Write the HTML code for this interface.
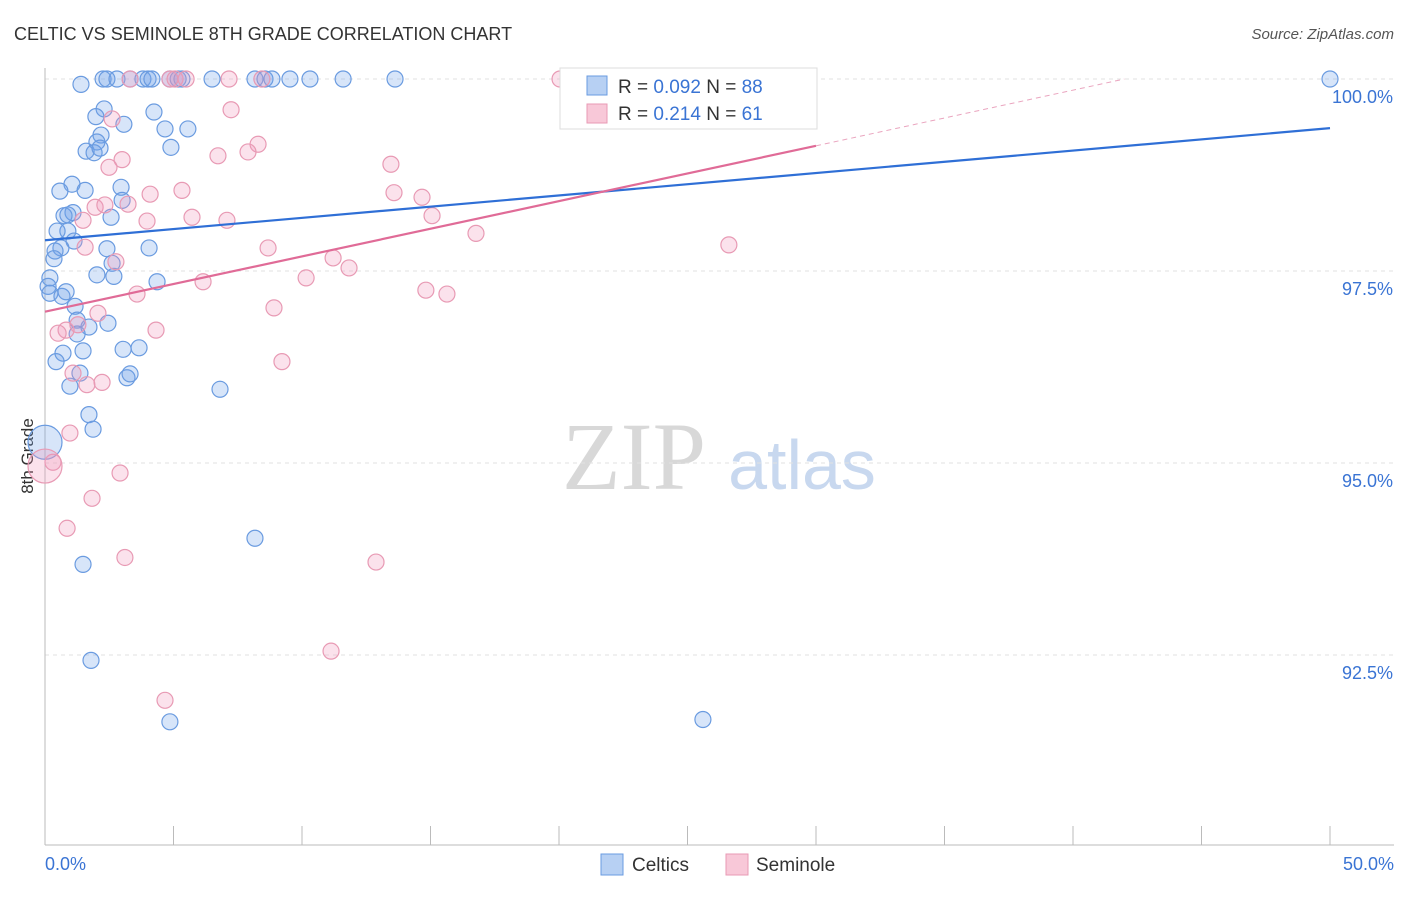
<!DOCTYPE html>
<html><head><meta charset="utf-8"><style>
body{margin:0;background:#fff;font-family:"Liberation Sans",sans-serif}
</style></head><body>
<svg id="chart" width="1406" height="892" xmlns="http://www.w3.org/2000/svg" font-family="Liberation Sans, sans-serif">
<text x="14" y="40" font-size="18" fill="#333">CELTIC VS SEMINOLE 8TH GRADE CORRELATION CHART</text>
<text x="1394" y="39" font-size="15" fill="#555" text-anchor="end" font-style="italic">Source: ZipAtlas.com</text>
<text transform="translate(33,456) rotate(-90)" font-size="17" fill="#333" text-anchor="middle">8th Grade</text>
<g>
<text x="634" y="489" font-size="96" font-family="Liberation Serif, serif" fill="#d8d8d8" text-anchor="middle">ZIP</text>
<text x="802" y="489" font-size="70" fill="#c8d8ef" text-anchor="middle">atlas</text>
</g>
<g id="grid"></g><g id="axes"></g><g id="pts"></g><g id="lines"></g>
<g>
<rect x="560" y="68" width="257" height="61" fill="#fff" stroke="#ddd"/>
<rect x="587" y="76" width="20" height="19" fill="#b7d0f3" stroke="#6a9be0"/>
<text x="618" y="93" font-size="19" fill="#333">R = <tspan fill="#3a74d4">0.092</tspan>   N = <tspan fill="#3a74d4">88</tspan></text>
<rect x="587" y="104" width="20" height="19" fill="#f8c8d8" stroke="#e89ab4"/>
<text x="618" y="120" font-size="19" fill="#333">R =  <tspan fill="#3a74d4">0.214</tspan>   N =  <tspan fill="#3a74d4">61</tspan></text>
</g>
<g>
<rect x="601" y="854" width="22" height="21" fill="#b7d0f3" stroke="#6a9be0"/>
<text x="632" y="871" font-size="19" fill="#333">Celtics</text>
<rect x="726" y="854" width="22" height="21" fill="#f8c8d8" stroke="#e89ab4"/>
<text x="756" y="871" font-size="19" fill="#333">Seminole</text>
</g>
</svg>
<script>
const yTicks=[100,97.5,95,92.5];
const yTickLabels=["100.0%","97.5%","95.0%","92.5%"];
const xTicks=[0,5,10,15,20,25,30,35,40,45,50];
const celticsX=[1.40,2.26,2.41,2.80,3.31,3.81,4.01,4.16,4.86,5.18,5.33,6.50,8.17,8.56,8.83,9.53,10.31,11.60,13.62,50.0,2.30,1.98,4.24,3.07,4.67,5.56,2.18,2.02,1.60,1.91,2.14,4.90,1.05,0.58,1.56,2.96,1.09,3.00,0.74,0.89,2.57,0.47,0.89,1.13,0.62,0.39,2.41,4.05,0.35,2.61,0.19,2.02,2.68,4.36,0.12,0.19,0.66,0.82,1.17,1.25,1.71,2.45,1.25,0.70,1.48,3.04,3.66,0.43,1.36,0.97,3.19,3.31,6.81,1.71,1.87,0,8.17,1.48,1.79,4.86,25.60];
const celticsY=[99.93,100,100,100,100,100,100,100,100,100,100,100,100,100,100,100,100,100,100,100,99.61,99.51,99.57,99.41,99.35,99.35,99.27,99.18,99.06,99.04,99.10,99.11,98.63,98.54,98.55,98.59,98.26,98.42,98.22,98.23,98.20,98.02,98.02,97.89,97.80,97.76,97.79,97.80,97.66,97.60,97.41,97.45,97.43,97.36,97.30,97.21,97.17,97.23,97.04,96.86,96.77,96.82,96.68,96.43,96.46,96.48,96.50,96.32,96.17,96.00,96.11,96.16,95.96,95.63,95.44,95.27,94.02,93.68,92.43,91.63,91.66];
const seminoleX=[3.31,4.86,5.06,5.49,7.16,8.44,20.04,7.24,2.61,8.29,6.73,7.90,3.00,2.49,13.46,4.09,5.33,13.58,14.67,1.95,2.33,3.23,1.48,3.97,5.72,7.08,15.06,16.77,8.68,26.61,1.56,2.76,11.21,11.83,10.16,6.15,3.58,14.82,15.64,8.91,2.06,0.82,0.51,1.28,4.32,9.22,1.09,1.63,2.22,0.97,0.31,0,2.92,1.83,0.86,3.11,12.88,11.13,4.67];
const seminoleY=[100,100,100,100,100,100,100,99.60,99.48,99.15,99.00,99.05,98.95,98.85,98.89,98.50,98.55,98.52,98.46,98.33,98.36,98.37,98.16,98.15,98.20,98.16,98.22,97.99,97.80,97.84,97.81,97.62,97.67,97.54,97.41,97.36,97.20,97.25,97.20,97.02,96.95,96.73,96.69,96.80,96.73,96.32,96.17,96.02,96.05,95.39,95.01,94.96,94.87,94.54,94.15,93.77,93.71,92.55,91.91];
const celticsTrend=[[0,97.90],[50,99.36]];
const seminoleTrend=[[0,96.97],[30,99.13]];
const seminoleDash=[[30,99.13],[42,100]];
const NS="http://www.w3.org/2000/svg";
const X=v=>45+v/50*1285, Y=v=>79+(100-v)/2.5*192;
function mk(t,a,p){const e=document.createElementNS(NS,t);for(const k in a)e.setAttribute(k,a[k]);document.getElementById(p).appendChild(e);return e;}
yTicks.forEach((t,i)=>{
 const l=mk('line',{x1:45,x2:1394,y1:Y(t),y2:Y(t),stroke:'#e2e2e2','stroke-dasharray':'4,4'},'grid');
 
 
 const tx=mk('text',{x:1393,y:Y(t)+24,'font-size':18,fill:'#3a74d4','text-anchor':'end'},'axes');
 tx.textContent=yTickLabels[i];
 
 
});
const ax=mk('line',{x1:45,x2:1394,y1:845,y2:845,stroke:'#bbb'},'axes');


const ay=mk('line',{x1:45,x2:45,y1:68,y2:845,stroke:'#bbb'},'axes');


xTicks.forEach(t=>{
 const l=mk('line',{x1:X(t),x2:X(t),y1:826,y2:845,stroke:'#bbb'},'axes');
 
 
});
const xl0=mk('text',{x:45,y:870,'font-size':18,fill:'#3a74d4'},'axes');xl0.textContent='0.0%';


const xl1=mk('text',{x:1394,y:870,'font-size':18,fill:'#3a74d4','text-anchor':'end'},'axes');xl1.textContent='50.0%';


function pts(xs,ys,fill,stroke,name){xs.forEach((x,i)=>{
 const big=(x===0);
 const c=mk('circle',{cx:X(x),cy:Y(ys[i]),r:big?17:8,fill:fill,stroke:stroke,'stroke-width':1.2},'pts');
 
 
});}
pts(celticsX,celticsY,'rgba(110,160,235,0.28)','#6a9be0','celtics-point');
pts(seminoleX,seminoleY,'rgba(240,150,185,0.28)','#e89ab4','seminole-point');
function ln(p,st,w,dash,name){const l=mk('line',{x1:X(p[0][0]),y1:Y(p[0][1]),x2:X(p[1][0]),y2:Y(p[1][1]),stroke:st,'stroke-width':w},'lines');
 if(dash)l.setAttribute('stroke-dasharray',dash);
 
 }
ln(celticsTrend,'#2f6fd6',2.2,null,'celtics-trendline');
ln(seminoleTrend,'#e06b97',2.2,null,'seminole-trendline');
ln(seminoleDash,'#eaa5bf',1,'5,4','seminole-trendline-extension');
</script>
</body></html>
